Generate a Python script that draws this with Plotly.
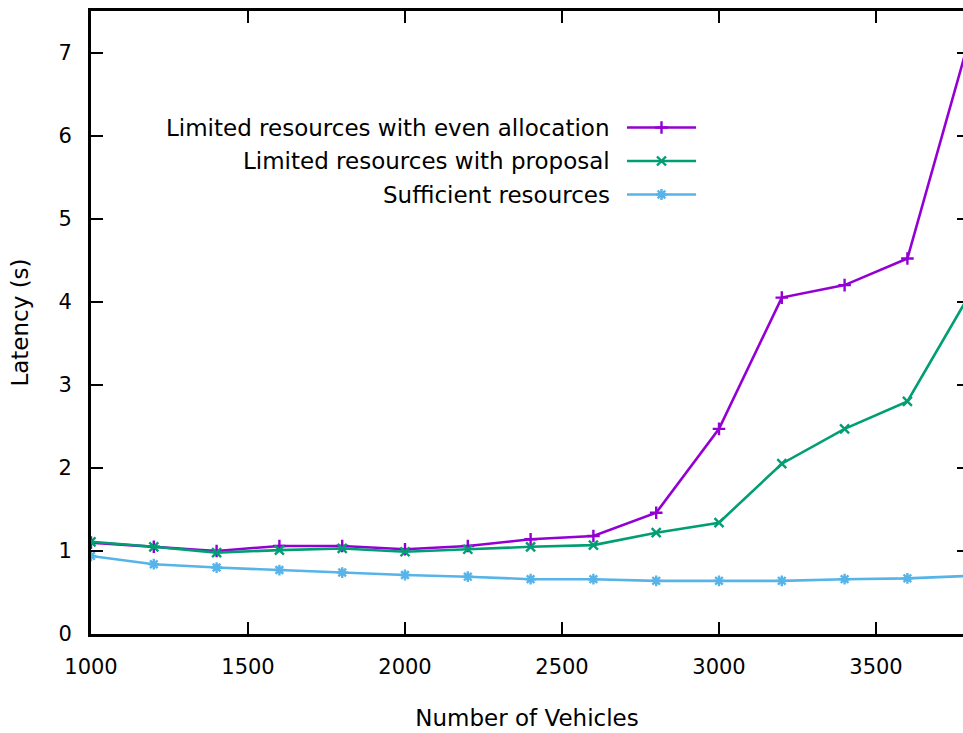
import plotly.graph_objects as go

# Number of vehicles on the road
vehicles = [1000, 1200, 1400, 1600, 1800, 2000, 2200, 2400, 2600, 2800, 3000, 3200, 3400, 3600, 3800]

# Average latency (s) for each resource scenario
even_allocation = [1.10, 1.05, 1.00, 1.06, 1.06, 1.02, 1.06, 1.14, 1.18, 1.46, 2.47, 4.05, 4.20, 4.52, 7.20]
proposal = [1.11, 1.05, 0.98, 1.01, 1.03, 0.99, 1.02, 1.05, 1.07, 1.22, 1.34, 2.05, 2.47, 2.80, 4.10]
sufficient = [0.94, 0.84, 0.80, 0.77, 0.74, 0.71, 0.69, 0.66, 0.66, 0.64, 0.64, 0.64, 0.66, 0.67, 0.70]

series_names = [
    "Limited resources with even allocation",
    "Limited resources with proposal",
    "Sufficient resources",
]
series_values = [even_allocation, proposal, sufficient]
series_colors = ["#9400D3", "#009E73", "#56B4E9"]
series_symbols = ["cross-thin-open", "x-thin-open", "asterisk-open"]
series_sizes = [9, 9, 9]

x_ticks = [1000, 1500, 2000, 2500, 3000, 3500]
y_ticks = [0, 1, 2, 3, 4, 5, 6, 7]

FONT = "DejaVu Sans"
TEXT_SIZE = 23
TICK_SIZE = 21
W, H = 963, 733
L, R, T, B = 91, 0, 11, 99

fig = go.Figure()

for name, vals, col, sym, sz in zip(series_names, series_values, series_colors,
                                    series_symbols, series_sizes):
    fig.add_trace(go.Scatter(
        x=vehicles, y=vals, name=name, mode="lines+markers",
        line=dict(color=col, width=2.6),
        marker=dict(symbol=sym, size=sz, color=col, line=dict(color=col, width=2.4)),
        showlegend=False,
    ))

# helper trace so the right-hand tick axis is rendered
fig.add_trace(go.Scatter(x=[None], y=[None], xaxis="x", yaxis="y2",
                         showlegend=False, hoverinfo="skip"))

# key drawn inside the plot: label on the left, sample on the right
key_rows = [127.5, 161, 194.5]
for name, col, sym, sz, ry in zip(series_names, series_colors, series_symbols,
                                  series_sizes, key_rows):
    fig.add_trace(go.Scatter(
        x=[627, 696], y=[ry, ry], mode="lines", xaxis="x3", yaxis="y3",
        line=dict(color=col, width=2.6), showlegend=False, hoverinfo="skip",
    ))
    fig.add_trace(go.Scatter(
        x=[661.5], y=[ry], mode="markers", xaxis="x3", yaxis="y3",
        marker=dict(symbol=sym, size=sz, color=col, line=dict(color=col, width=2.4)),
        showlegend=False, hoverinfo="skip",
    ))
    fig.add_annotation(
        x=612, y=ry, xref="x3", yref="y3", text=name, showarrow=False,
        xanchor="right", yanchor="middle",
        font=dict(family=FONT, size=TEXT_SIZE, color="#000000"),
    )

px_per_unit = (875 - 718) / 500.0
x_right = 1000 + (W - L) / px_per_unit

fig.update_layout(
    width=W, height=H,
    margin=dict(l=L, r=R, t=T, b=B, pad=0),
    paper_bgcolor="white", plot_bgcolor="white",
    font=dict(family=FONT, size=TICK_SIZE, color="#000000"),
    xaxis=dict(
        range=[1000, x_right], tickvals=x_ticks,
        ticks="inside", ticklen=12, tickwidth=2, tickcolor="black",
        showline=True, linewidth=3, linecolor="black", mirror="ticks",
        showgrid=False, zeroline=False, ticklabelstandoff=12,
        tickfont=dict(family=FONT, size=TICK_SIZE),
        title=dict(text="Number of Vehicles", standoff=32,
                   font=dict(family=FONT, size=TEXT_SIZE)),
    ),
    yaxis=dict(
        range=[0, 7.5], tickvals=y_ticks,
        ticks="inside", ticklen=12, tickwidth=2, tickcolor="black",
        showline=True, linewidth=3, linecolor="black", mirror=False,
        showgrid=False, zeroline=False, ticklabelstandoff=12,
        tickfont=dict(family=FONT, size=TICK_SIZE),
        title=dict(text="Latency (s)", standoff=24,
                   font=dict(family=FONT, size=TEXT_SIZE)),
    ),
    yaxis2=dict(
        range=[0, 7.5], tickvals=y_ticks, overlaying="y", side="right",
        anchor="x", ticks="inside", ticklen=6, tickwidth=2, tickcolor="black",
        showticklabels=False, showline=False, showgrid=False, zeroline=False,
    ),
    xaxis3=dict(range=[L, W - R], overlaying="x", anchor="y3", visible=False,
                fixedrange=True),
    yaxis3=dict(range=[H - B, T], overlaying="y", anchor="x3", visible=False,
                fixedrange=True),
    showlegend=False,
)

fig.write_html("out.html")
